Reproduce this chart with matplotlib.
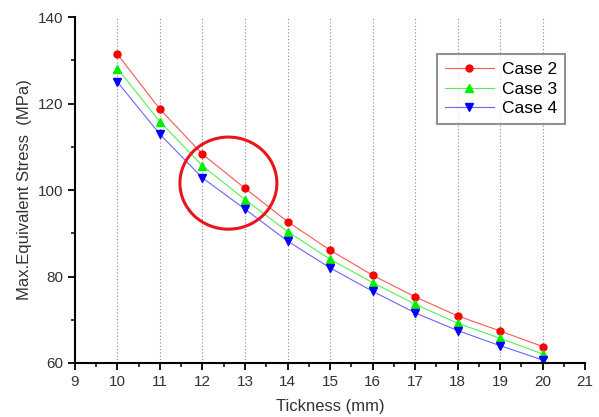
import matplotlib.pyplot as plt
from matplotlib.patches import Ellipse
from matplotlib.ticker import MultipleLocator

# Datos
thickness = [10, 11, 12, 13, 14, 15, 16, 17, 18, 19, 20]
case2 = [131.4, 118.7, 108.3, 100.4, 92.7, 86.1, 80.3, 75.3, 70.9, 67.4, 63.8]
case3 = [128.1, 115.8, 105.6, 97.8, 90.4, 84.0, 78.6, 73.6, 69.2, 65.7, 62.1]
case4 = [125.0, 112.9, 102.8, 95.6, 88.2, 82.0, 76.6, 71.6, 67.5, 64.0, 60.7]

plt.rcParams['font.family'] = ['Liberation Sans', 'DejaVu Sans']

fig = plt.figure(figsize=(5.99, 4.17), dpi=100)
ax = fig.add_axes([0.125, 0.1295, 0.852, 0.8295])

ax.plot(thickness, case2, color='#ff5555', lw=0.8, marker='o', ms=5,
        mfc='red', mec='red', label='Case 2')
ax.plot(thickness, case3, color='#55ee55', lw=0.8, marker='^', ms=6,
        mfc='#00ee00', mec='#00ee00', label='Case 3')
ax.plot(thickness, case4, color='#6666ff', lw=0.8, marker='v', ms=6,
        mfc='blue', mec='blue', label='Case 4')

# círculo rojo
ax.add_patch(Ellipse((12.61, 101.6), 2.28, 21.3, fill=False, ec='#e8161b', lw=2.2, zorder=5))

ax.set_xlim(9, 21)
ax.set_ylim(60, 140)
ax.xaxis.set_major_locator(MultipleLocator(1))
ax.xaxis.set_minor_locator(MultipleLocator(0.5))
ax.yaxis.set_major_locator(MultipleLocator(20))
ax.yaxis.set_minor_locator(MultipleLocator(10))

for x in range(10, 21):
    ax.axvline(x, color='#888888', ls=(0, (1, 2)), lw=0.8, zorder=0)

ax.spines['top'].set_visible(False)
ax.spines['right'].set_visible(False)
ax.spines['left'].set_linewidth(1.5)
ax.spines['bottom'].set_linewidth(1.5)
ax.tick_params(which='major', direction='out', length=5, width=1.3, labelsize=11, labelcolor='#333333')
ax.tick_params(which='minor', direction='out', length=3, width=1.1)

ax.set_xlabel('Tickness (mm)', fontsize=12, color='#333333', labelpad=7)
ax.set_ylabel('Max.Equivalent Stress  (MPa)', fontsize=12, color='#333333', labelpad=4)

leg = ax.legend(loc='upper left', bbox_to_anchor=(0.693, 0.917), fontsize=12.5,
                fancybox=False, edgecolor='#777777', handlelength=2.8,
                borderpad=0.45, labelspacing=0.25, handletextpad=0.5)
leg.get_frame().set_linewidth(1.5)

fig.savefig('out.png', dpi=100)
